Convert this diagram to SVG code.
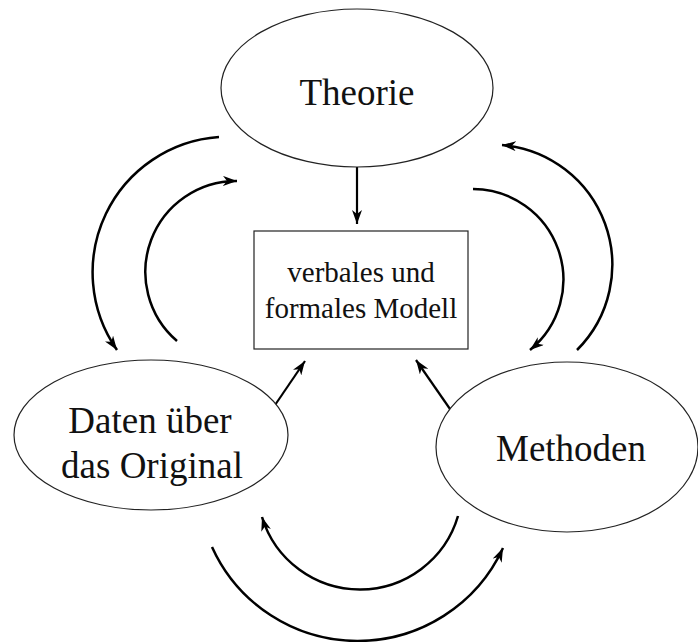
<svg xmlns="http://www.w3.org/2000/svg" width="698" height="642" viewBox="0 0 698 642">
  <defs>
    <style>
      .node-shape { fill: #ffffff; stroke: #222222; stroke-width: 1.2; }
      .label { font-family: "Liberation Serif", "Times New Roman", serif; fill: #111111; text-anchor: middle; }
      .big { font-size: 37px; }
      .small { font-size: 29px; }
      .conn { fill: none; stroke: #000000; stroke-width: 2.5; marker-end: url(#head); }
      .straight { fill: none; stroke: #000000; stroke-width: 2.2; marker-end: url(#head); }
    </style>
    <marker id="head" viewBox="0 0 14 10" refX="14" refY="5" markerWidth="14" markerHeight="10" markerUnits="userSpaceOnUse" orient="auto">
      <path d="M0,0 L14,5 L0,10 L4,5 z" fill="#000000"/>
    </marker>
  </defs>

  <rect x="0" y="0" width="698" height="642" fill="#ffffff"/>

  <!-- connectors -->
  <g id="connectors">
    <!-- Theorie -> Modell -->
    <path class="straight" d="M357,167 L357,224"/>
    <!-- Daten -> Modell -->
    <path class="straight" d="M273,408 L305,361"/>
    <!-- Methoden -> Modell -->
    <path class="straight" d="M450,409 L416,360"/>
    <!-- Theorie -> Daten (outer left) -->
    <path class="conn" d="M219,137 A135.7,135.7 0 0 0 117,350"/>
    <!-- Daten -> Theorie (inner left) -->
    <path class="conn" d="M177,341 A91,91 0 0 1 237,181"/>
    <!-- Methoden -> Theorie (outer right) -->
    <path class="conn" d="M577,350 A120.3,120.3 0 0 0 502,145"/>
    <!-- Theorie -> Methoden (inner right) -->
    <path class="conn" d="M473,189 A90.7,90.7 0 0 1 530,350"/>
    <!-- Methoden -> Daten (inner bottom) -->
    <path class="conn" d="M458,516 A102.3,102.3 0 0 1 262,517"/>
    <!-- Daten -> Methoden (outer bottom) -->
    <path class="conn" d="M212,547 A160,160 0 0 0 503,548"/>
  </g>

  <g id="theorie">
    <ellipse class="node-shape" cx="357" cy="88" rx="136" ry="79"/>
    <text class="label big" x="357" y="105">Theorie</text>
  </g>

  <g id="modell">
    <rect class="node-shape" x="254" y="231" width="214" height="118"/>
    <text class="label small" x="361" y="282">verbales und</text>
    <text class="label small" x="361" y="318">formales Modell</text>
  </g>

  <g id="daten">
    <ellipse class="node-shape" cx="151" cy="435" rx="137" ry="75"/>
    <text class="label big" x="150" y="433">Daten über</text>
    <text class="label big" x="152" y="478">das Original</text>
  </g>

  <g id="methoden">
    <ellipse class="node-shape" cx="567" cy="447" rx="131" ry="85"/>
    <text class="label big" x="571" y="461">Methoden</text>
  </g>
</svg>
